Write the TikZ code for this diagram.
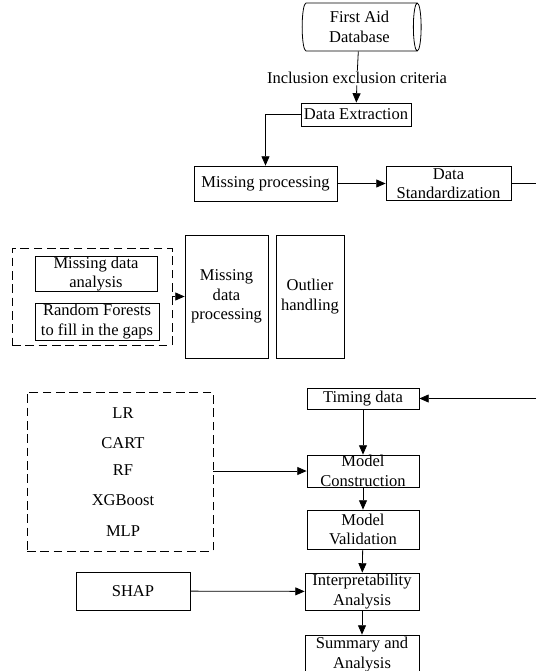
\documentclass[tikz,border=0pt]{standalone}
\usepackage{fontspec}
\setmainfont{Liberation Serif}
\usetikzlibrary{shapes.geometric,arrows.meta}

\tikzset{
  box/.style={draw, line width=.6pt, inner sep=0pt, align=center},
  dashbox/.style={draw, dash pattern=on 6.5pt off 3.5pt, line width=.6pt, inner sep=0pt},
  flow/.style={line width=.6pt, -{Triangle[length=7pt,width=6pt]}},
  link/.style={line width=.6pt}
}

\begin{document}
\begin{tikzpicture}[x=0.75pt, y=-0.75pt, font=\fontsize{12.4}{14.6}\selectfont]
            \clip (0,0) rectangle (536,671);
            % top part
            \node[box, shape=cylinder, shape border rotate=0, aspect=0.25, minimum height=89.25pt, minimum width=36pt] (db) at (359.5,27) {First Aid\\Database};
            \node[inner sep=1pt] (crit) at (357,78) {Inclusion exclusion criteria};
            \node[box, minimum width=82.5pt, minimum height=17.25pt] (de) at (356,114.5) {Data Extraction};
            \node[box, minimum width=107.25pt, minimum height=26.25pt] (mp) at (265.5,183.5) {Missing processing};
            \node[box, minimum width=93.75pt, minimum height=25.5pt] (ds) at (448.5,183.5) {Data\\Standardization};
            \coordinate (outR) at (536,183.5);
            \draw[link] (db) to (crit);
            \draw[flow] (crit) to (de);
            \draw[flow] (de.west) -| (mp.north);
            \draw[flow] (mp) to (ds);
            \draw[link] (ds) to (outR);
            % missing data
            \node[dashbox, minimum width=120pt, minimum height=72.75pt] (gap) at (92,296.5) {};
            \node[box, minimum width=91.5pt, minimum height=25.5pt] (mda) at (96,274) {Missing data\\analysis};
            \node[box, minimum width=93pt, minimum height=27.75pt] (rfg) at (97,321.5) {Random Forests\\to fill in the gaps};
            \node[box, minimum width=62.25pt, minimum height=92.25pt] (mdp) at (226.5,296.5) {Missing\\data\\processing};
            \node[box, minimum width=51pt, minimum height=92.25pt] (oh) at (310,296.5) {Outlier\\handling};
            \draw[flow] (gap) to (mdp);
            % models
            \node[dashbox, minimum width=139.5pt, minimum height=119.25pt] (algs) at (120,471.5) {};
            \node (lr) at (123,413) {LR};
            \node (cart) at (123,443) {CART};
            \node (rf) at (123,470) {RF};
            \node (xgb) at (123,500) {XGBoost};
            \node (mlp) at (123,531) {MLP};
            \node[box, minimum width=84pt, minimum height=15.75pt] (td) at (363,398.5) {Timing data};
            \coordinate (inR) at (536,398.5);
            \node[box, minimum width=84pt, minimum height=24pt] (mc) at (363,471) {Model\\Construction};
            \node[box, minimum width=84pt, minimum height=29.25pt] (mv) at (363,529.5) {Model\\Validation};
            \node[box, minimum width=85.5pt, minimum height=28.5pt] (shap) at (133,591) {SHAP};
            \node[box, minimum width=85.5pt, minimum height=27.75pt] (ia) at (362,591.5) {Interpretability\\Analysis};
            \node[box, minimum width=85.5pt, minimum height=29.25pt] (sa) at (362,654.5) {Summary and\\Analysis};
            \draw[flow] (inR) to (td);
            \draw[flow] (td) to (mc);
            \draw[flow] (algs.east |- mc) to (mc);
            \draw[flow] (mc) to (mv);
            \draw[flow] (mv) to (ia);
            \draw[flow] (shap) to (ia);
            \draw[flow] (ia) to (sa);
\end{tikzpicture}
\end{document}
